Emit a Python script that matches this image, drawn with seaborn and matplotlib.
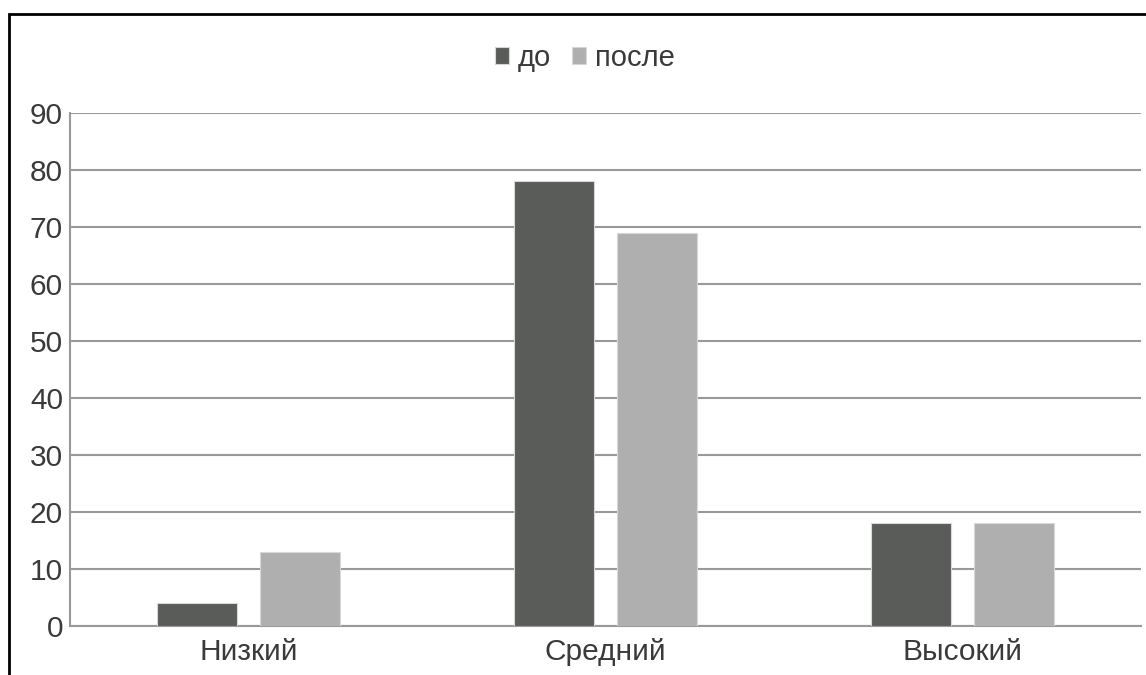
import matplotlib
matplotlib.use("Agg")
import matplotlib.pyplot as plt
from matplotlib.patches import Rectangle
import pandas as pd
import seaborn as sns

# Data
levels = ["Низкий", "Средний", "Высокий"]
series = ["до", "после"]
before = [4, 78, 18]
after = [13, 69, 18]
y_ticks = [0, 10, 20, 30, 40, 50, 60, 70, 80, 90]

colors = {"до": "#585d59", "после": "#afafaf"}

df = pd.DataFrame({
    "level": levels * 2,
    "series": [series[0]] * len(levels) + [series[1]] * len(levels),
    "value": before + after,
})

sns.set_theme(style="white")
plt.rcParams["font.family"] = ["Liberation Sans", "DejaVu Sans"]

fig = plt.figure(figsize=(11.46, 6.75), dpi=100)
ax = fig.add_axes([70 / 1146, 49 / 675, 1071 / 1146, 513 / 675])

sns.barplot(
    data=df, x="level", y="value", hue="series",
    order=levels, hue_order=series, palette=colors,
    width=0.576, gap=0.223, ax=ax,
    edgecolor="#d8d8d8", linewidth=0.8, zorder=3,
)

ax.set_ylim(0, 90)
ax.set_yticks(y_ticks)
ax.set_xlim(-0.5, 2.5)
ax.yaxis.grid(True, color="#999999", linewidth=1.5, zorder=0)
ax.set_axisbelow(True)
ax.set_xlabel("")
ax.set_ylabel("")

for side in ["top", "right"]:
    ax.spines[side].set_visible(False)
for side in ["left", "bottom"]:
    ax.spines[side].set_color("#999999")
    ax.spines[side].set_linewidth(1.5)

ax.tick_params(axis="both", length=0, labelsize=21.5, colors="#3a3a3a")
ax.tick_params(axis="y", pad=5)
ax.tick_params(axis="x", pad=9)

handles, labels = ax.get_legend_handles_labels()
ax.legend_.remove()
fig.legend(
    handles, labels, loc="center", bbox_to_anchor=(585 / 1146, 1 - 58 / 675),
    ncol=2, frameon=False, fontsize=21, labelcolor="#3a3a3a",
    handlelength=0.5, handleheight=0.5, handletextpad=0.3,
    columnspacing=0.7,
)

# Outer frame, open at the bottom and right edges
fig.patches.append(Rectangle(
    (8.5 / 1146, -0.1), 1.2, 1.1 - 14.5 / 675,
    transform=fig.transFigure, fill=False, edgecolor="black", linewidth=2,
))

fig.savefig("out.png", dpi=100)
